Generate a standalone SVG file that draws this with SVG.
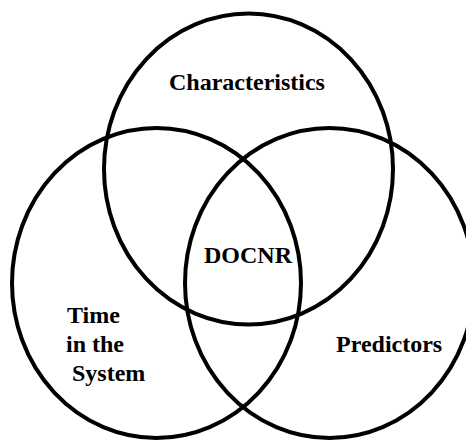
<svg xmlns="http://www.w3.org/2000/svg" width="466" height="441" viewBox="0 0 466 441">
<style>
.c{fill:none;stroke:#000;stroke-width:4}
.t{font-family:"Liberation Serif","Times New Roman",serif;font-weight:bold;font-size:24px;fill:#000}
</style>
<rect width="466" height="441" fill="#fff"/>
<g id="characteristics">
<ellipse class="c" cx="248.5" cy="169" rx="144.5" ry="155.5"/>
<text class="t" x="169" y="90">Characteristics</text>
</g>
<g id="time-in-system">
<ellipse class="c" cx="156.5" cy="283" rx="144.5" ry="155"/>
<text class="t" x="67" y="323">Time</text>
<text class="t" x="66" y="352">in the</text>
<text class="t" x="72" y="381">System</text>
</g>
<g id="predictors">
<ellipse class="c" cx="329.5" cy="283" rx="144.5" ry="155"/>
<text class="t" x="336" y="352">Predictors</text>
</g>
<g id="docnr">
<text class="t" x="204" y="263">DOCNR</text>
</g>
<g id="connectors"></g>
</svg>
